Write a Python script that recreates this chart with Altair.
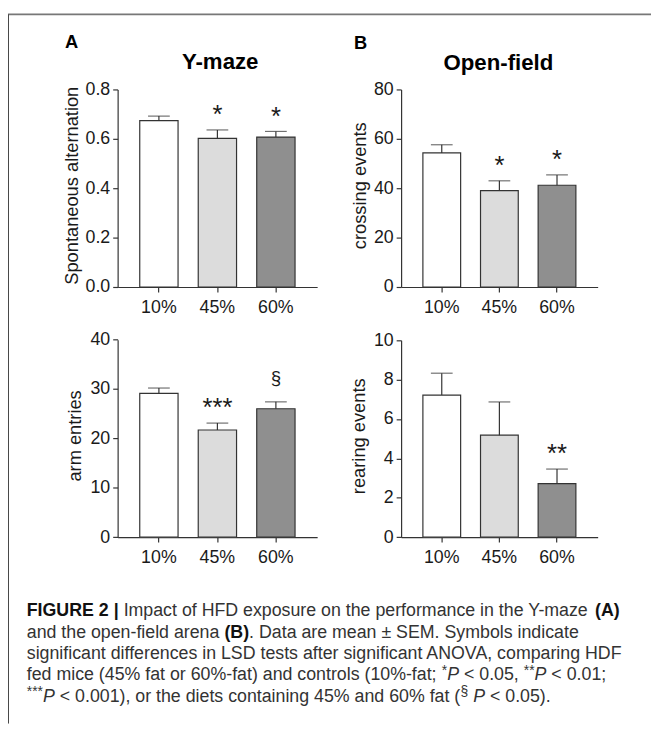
import altair as alt
import pandas as pd

# ---------------- data ----------------
diets = ["10%", "45%", "60%"]

alt_mean = [0.674, 0.602, 0.607]
alt_sem = [0.018, 0.034, 0.023]
alt_sig = ["", "*", "*"]

entries_mean = [29.1, 21.7, 26.0]
entries_sem = [1.1, 1.4, 1.4]
entries_sig = ["", "***", "§"]

cross_mean = [54.3, 39.0, 41.2]
cross_sem = [3.3, 4.0, 4.2]
cross_sig = ["", "*", "*"]

rear_mean = [7.22, 5.18, 2.72]
rear_sem = [1.11, 1.69, 0.74]
rear_sig = ["", "", "**"]

alt_ticks = [0, 0.2, 0.4, 0.6, 0.8]
entries_ticks = [0, 10, 20, 30, 40]
cross_ticks = [0, 20, 40, 60, 80]
rear_ticks = [0, 2, 4, 6, 8, 10]

fills = ["#ffffff", "#dcdcdc", "#8f8f8f"]

caption_lines = [
    [("FIGURE 2 | ", "b"), ("Impact of HFD exposure on the performance in the Y-maze ", "r"), ("(A)", "b")],
    [("and the open-field arena ", "r"), ("(B)", "b"), (". Data are mean ± SEM. Symbols indicate", "r")],
    [("significant differences in LSD tests after significant ANOVA, comparing HDF", "r")],
    [("fed mice (45% fat or 60%-fat) and controls (10%-fat; ", "r"), ("*", "s"), ("P", "i"),
     (" < 0.05, ", "r"), ("**", "s"), ("P", "i"), (" < 0.01;", "r")],
    [("***", "s"), ("P", "i"), (" < 0.001), or the diets containing 45% and 60% fat (", "r"),
     ("§", "s"), (" ", "r"), ("P", "i"), (" < 0.05).", "r")],
]

# ---------------- layout ----------------
W, H = 651, 717
FONT = "Liberation Sans"
INK = "#1a1a1a"
LINE = "#333333"

# Arial / Liberation Sans advance widths (1/1000 em) used to place caption segments
REG = {' ': 278, '(': 333, ')': 333, '*': 389, ',': 278, '-': 333, '.': 278, ';': 278, '<': 584,
       '%': 889, '±': 584, '§': 556, '|': 260,
       'A': 667, 'B': 667, 'C': 722, 'D': 722, 'E': 667, 'F': 611, 'G': 778, 'H': 722, 'I': 278,
       'L': 556, 'M': 833, 'N': 722, 'O': 778, 'P': 667, 'S': 667, 'V': 667, 'Y': 667,
       'a': 556, 'b': 556, 'c': 500, 'd': 556, 'e': 556, 'f': 278, 'g': 556, 'h': 556, 'i': 222,
       'j': 222, 'k': 500, 'l': 222, 'm': 833, 'n': 556, 'o': 556, 'p': 556, 'q': 556, 'r': 333,
       's': 500, 't': 278, 'u': 556, 'v': 500, 'w': 722, 'x': 500, 'y': 500, 'z': 500}
BOLD = {' ': 278, '(': 333, ')': 333, '|': 280, '2': 556, 'A': 722, 'B': 722, 'E': 667,
        'F': 611, 'G': 778, 'I': 278, 'R': 722, 'U': 722}


def text_width(s, table, size):
    return sum(table.get(c, 556) for c in s) * size / 1000.0


def panel(mean, sem, sig, ymax, yticks, yfmt, ytitle, xr, yr, title_x, label_pad):
    df = pd.DataFrame({"diet": diets, "mean": mean,
                       "upper": [m + s for m, s in zip(mean, sem)], "sig": sig})
    xs = alt.Scale(domain=diets, range=xr, paddingInner=0.345, paddingOuter=0.378)
    ys = alt.Scale(domain=[0, ymax], range=yr, nice=False, zero=True)
    x_axis = alt.Axis(orient="bottom", offset=yr[0] - H, title=None, labelAngle=0,
                      labelFont=FONT, labelFontSize=18, labelColor=INK, labelPadding=label_pad,
                      tickSize=5, tickColor=LINE, tickWidth=1.2, domainColor=LINE,
                      domainWidth=1.2, grid=False)
    y_axis = alt.Axis(orient="left", offset=-xr[0], values=yticks, format=yfmt, title=ytitle,
                      titleFont=FONT, titleFontSize=18.5, titleFontWeight="normal",
                      titleColor=INK, titleAngle=270, titleAlign="center",
                      titleBaseline="middle", titleX=title_x,
                      titleY=(yr[0] + yr[1]) / 2 - 3,
                      labelFont=FONT, labelFontSize=18, labelColor=INK, labelPadding=3,
                      tickSize=5, tickColor=LINE, tickWidth=1.2, domainColor=LINE,
                      domainWidth=1.2, grid=False)
    x = alt.X("diet:N", scale=xs, axis=x_axis, sort=diets)
    base = alt.Chart(df)
    bars = base.mark_bar(stroke=LINE, strokeWidth=1.2).encode(
        x=x, y=alt.Y("mean:Q", scale=ys, axis=y_axis),
        fill=alt.Fill("diet:N", scale=alt.Scale(domain=diets, range=fills), legend=None))
    err = base.mark_rule(color=LINE, strokeWidth=1.2).encode(
        x=x, y=alt.Y("mean:Q", scale=ys, axis=y_axis), y2="upper:Q")
    cap = base.mark_tick(color=LINE, thickness=1.2, size=22).encode(
        x=x, y=alt.Y("upper:Q", scale=ys, axis=y_axis))
    stars = base.transform_filter("datum.sig != '' && datum.sig != '§'").mark_text(
        font=FONT, fontSize=26, baseline="alphabetic", dy=-7, color=INK).encode(
        x=x, y=alt.Y("upper:Q", scale=ys, axis=y_axis), text="sig:N")
    sect = base.transform_filter("datum.sig == '§'").mark_text(
        font=FONT, fontSize=19, baseline="alphabetic", dy=-18, color=INK).encode(
        x=x, y=alt.Y("upper:Q", scale=ys, axis=y_axis), text="sig:N")
    return alt.layer(bars, err, cap, stars, sect)


pA1 = panel(alt_mean, alt_sem, alt_sig, 0.8, alt_ticks, ".1f", "Spontaneous alternation",
            [111, 313], [278, 78], -47, 7)
pB1 = panel(cross_mean, cross_sem, cross_sig, 80, cross_ticks, "d", "crossing events",
            [398, 597], [278, 78], -42, 7)
pA2 = panel(entries_mean, entries_sem, entries_sig, 40, entries_ticks, "d", "arm entries",
            [111, 313], [531.3, 331.3], -44, 7)
pB2 = panel(rear_mean, rear_sem, rear_sig, 10, rear_ticks, "d", "rearing events",
            [398, 597], [531.3, 332], -43, 7)


def label(txt, x, y, size, weight="bold", align="left"):
    return alt.Chart(pd.DataFrame({"t": [txt]})).mark_text(
        font=FONT, fontSize=size, fontWeight=weight, align=align, baseline="alphabetic",
        color="#000000").encode(text="t:N", x=alt.value(x), y=alt.value(y))


titles = [
    label("A", 57.7, 36.3, 18.5),
    label("B", 350.3, 37, 18.5),
    label("Y-maze", 214.8, 57.7, 22.5, align="center"),
    label("Open-field", 496.5, 58.5, 22.5, align="center"),
]

# caption segments (leading spaces are turned into an x shift, since SVG drops them)
FS = 18.0
X0 = 19
baselines = [611.3, 633, 654.7, 676.4, 698]
rows = []
for line, yb in zip(caption_lines, baselines):
    cx = X0
    for txt, st in line:
        if st == "b":
            table, size, yy = BOLD, FS, yb
        elif st == "s":
            table, size, yy = REG, FS * 0.78, yb - 0.3 * FS
        else:
            table, size, yy = REG, FS, yb
        lead = len(txt) - len(txt.lstrip(" "))
        body = txt.lstrip(" ")
        cx += text_width(" " * lead, table, size)
        if body.strip():
            rows.append({"t": body, "x": cx, "y": yy, "st": st})
        cx += text_width(body, table, size)
cap_df = pd.DataFrame(rows)


def cap_layer(st, size, weight, style, color):
    return alt.Chart(cap_df).transform_filter(f"datum.st == '{st}'").mark_text(
        font=FONT, fontSize=size, fontWeight=weight, fontStyle=style, align="left",
        baseline="alphabetic", color=color).encode(
        text="t:N", x=alt.X("x:Q", scale=None), y=alt.Y("y:Q", scale=None))


caption = [
    cap_layer("r", FS, "normal", "normal", "#333333"),
    cap_layer("i", FS, "normal", "italic", "#333333"),
    cap_layer("s", FS * 0.78, "normal", "normal", "#333333"),
    cap_layer("b", FS, "bold", "normal", "#111111"),
]

one = pd.DataFrame({"k": [0]})
frame_top = alt.Chart(one).mark_rule(color="#777777", strokeWidth=2).encode(
    x=alt.value(0), x2=alt.value(W), y=alt.value(2))
frame_left = alt.Chart(one).mark_rule(color="#444444", strokeWidth=1).encode(
    x=alt.value(0.5), y=alt.value(2), y2=alt.value(720))

chart = alt.layer(pA1, pB1, pA2, pB2, frame_top, frame_left, *titles, *caption).resolve_scale(
    x="independent", y="independent", fill="independent"
).properties(
    width=W, height=H, padding=0, autosize=alt.AutoSizeParams(type="none")
).configure_view(stroke=None)

chart.save("out.html", embed_options={"renderer": "svg", "actions": False})
